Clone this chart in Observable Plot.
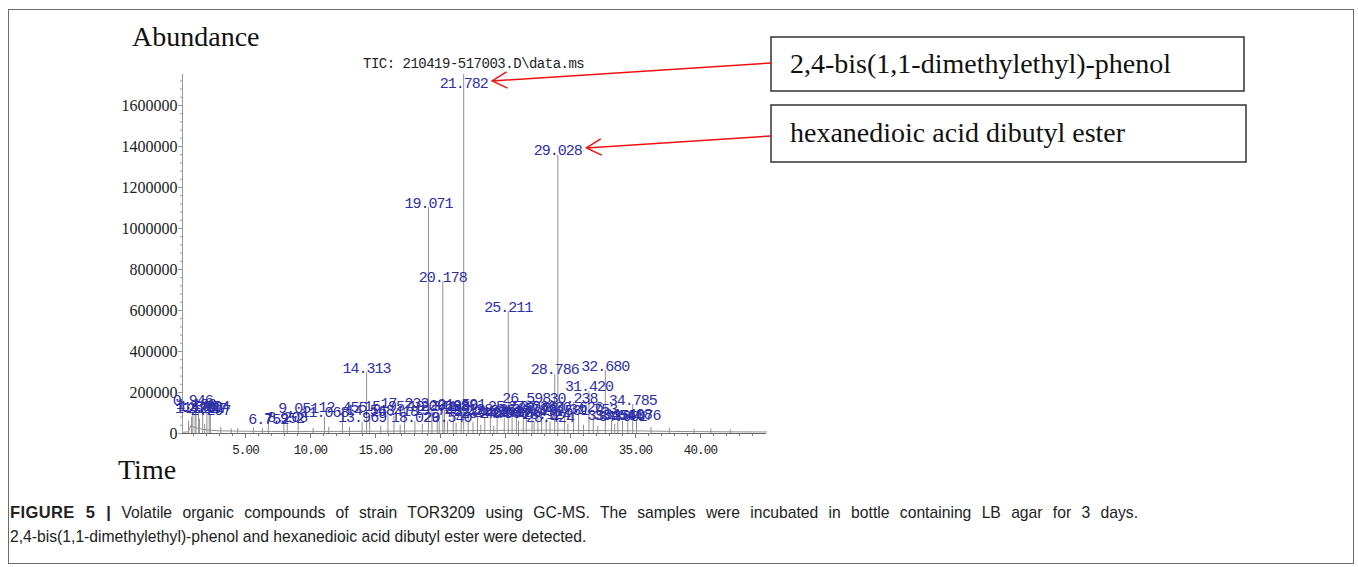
<!DOCTYPE html>
<html>
<head>
<meta charset="utf-8">
<script src="https://cdn.jsdelivr.net/npm/d3@7"></script>
<script src="https://cdn.jsdelivr.net/npm/@observablehq/plot@0.6"></script>
<style>
  html, body { margin: 0; padding: 0; background: #fff; }
  body { width: 1358px; height: 567px; position: relative; overflow: hidden; }
  #frame { position: absolute; left: 8px; top: 9px; width: 1346px; height: 555px; border: 1px solid #6b6b6b; box-sizing: border-box; }
  #chart { position: absolute; left: 0; top: 0; }
  #overlay { position: absolute; left: 0; top: 0; pointer-events: none; }
  .big { position: absolute; font-family: "Liberation Serif", serif; font-size: 28px; color: #111; white-space: nowrap; line-height: 1; }
  #tic { position: absolute; left: 363px; top: 57px; font-family: "Liberation Mono", monospace; font-size: 14px; letter-spacing: -0.5px; color: #222; white-space: nowrap; line-height: 1; }
  #caption { position: absolute; left: 10px; top: 500px; font-family: "Liberation Sans", Arial, sans-serif; font-size: 15.7px; line-height: 24px; color: #222; }
  #caption b { font-size: 16.5px; letter-spacing: 0.4px; }
  #caption .l1 { width: 1128px; text-align: justify; text-align-last: justify; white-space: normal; }
  #caption .l2 { white-space: nowrap; }
</style>
</head>
<body>
<div id="frame"></div>
<div id="chart"></div>
<svg id="overlay" width="1358" height="567"></svg>
<div class="big" style="left:132px; top:23px;">Abundance</div>
<div class="big" style="left:118px; top:456px;">Time</div>
<div id="tic">TIC: 210419-517003.D\data.ms</div>
<div id="caption"><div class="l1"><b>FIGURE 5 |</b> Volatile organic compounds of strain TOR3209 using GC-MS. The samples were incubated in bottle containing LB agar for 3 days.</div><div class="l2">2,4-bis(1,1-dimethylethyl)-phenol and hexanedioic acid dibutyl ester were detected.</div></div>
<script>
// ---- data ----
const peakTimes = [0.946, 1.120, 1.189, 1.389, 1.702, 2.027, 2.204, 2.297,
  6.752, 7.952, 8.208, 9.051, 11.068, 12.455, 13.969, 14.313, 14.548, 15.957, 16.418,
  17.233, 18.029, 19.071, 19.341, 19.749, 20.178, 20.298, 20.540, 20.980, 21.591, 21.782,
  22.128, 22.846, 23.404, 23.835, 24.358, 24.906, 25.211, 25.507, 25.836, 26.370, 26.598,
  27.036, 27.491, 27.781, 28.124, 28.424, 28.786, 29.028, 29.531, 30.238, 30.626, 31.420,
  31.753, 32.680, 33.156, 33.644, 34.001, 34.408, 34.785, 35.076];
const peakHeights = [141000, 100000, 120000, 112000, 105000, 100000, 110000, 92000,
  48000, 52000, 55000, 102000, 80000, 107000, 55000, 297000, 92000, 110000, 85000,
  122000, 58000, 1102000, 110000, 92000, 741000, 112000, 58000, 115000, 120000, 1755000,
  95000, 85000, 75000, 90000, 80000, 75000, 595000, 110000, 80000, 95000, 151000,
  110000, 85000, 100000, 70000, 55000, 288000, 1356000, 90000, 150000, 107000, 205000,
  97000, 307000, 65000, 68000, 62000, 70000, 141000, 68000];
const peakLabels = peakTimes.map(t => t.toFixed(3));

const minorPeakTimes = [0.62, 0.85, 1.45, 1.86, 3.1, 3.9, 4.4, 5.6, 6.3, 10.2, 11.4, 13.0, 15.4,
  16.9, 18.6, 19.9, 21.2, 22.5, 23.1, 24.1, 26.0, 27.2, 29.8, 31.0, 32.1, 33.4, 36.2, 37.6, 39.5, 40.8, 42.3];
const minorPeakHeights = [60000, 80000, 70000, 45000, 30000, 22000, 25000, 28000, 24000, 25000, 30000, 30000, 35000,
  40000, 45000, 60000, 50000, 55000, 40000, 35000, 60000, 55000, 45000, 40000, 35000, 45000, 30000, 25000, 20000, 22000, 18000];

const baseTimes  = [0.15, 0.6, 0.8, 1.0, 1.3, 1.6, 2.0, 2.5, 3.0, 4.0, 5.0, 7.0, 10.0, 13.0, 15.0, 18.0, 20.0, 22.0, 25.0, 28.0, 30.0, 33.0, 35.0, 38.0, 40.0, 43.0, 45.08];
const baseValues = [6000, 8000, 40000, 32000, 26000, 22000, 18000, 15000, 13000, 12000, 11000, 10000, 10000, 10500, 11000, 12000, 13000, 14000, 15000, 16000, 15000, 14000, 13000, 10000, 9000, 8000, 7500];

const xTicks = [5, 10, 15, 20, 25, 30, 35, 40];
const xTickLabels = ["5.00", "10.00", "15.00", "20.00", "25.00", "30.00", "35.00", "40.00"];
const yTicks = [0, 200000, 400000, 600000, 800000, 1000000, 1200000, 1400000, 1600000];
const yTickLabels = ["0", "200000", "400000", "600000", "800000", "1000000", "1200000", "1400000", "1600000"];

const compoundNames = ["2,4-bis(1,1-dimethylethyl)-phenol", "hexanedioic acid dibutyl ester"];
const compoundPeaks = [21.782, 29.028];

// ---- tables ----
const peaks = peakTimes.map((t, i) => ({t, h: peakHeights[i], label: peakLabels[i]}));
const minorPeaks = minorPeakTimes.map((t, i) => ({t, h: minorPeakHeights[i]}));
const baseline = baseTimes.map((t, i) => ({t, v: baseValues[i]}));

const yMax = 1751000;
const labelCap = 1683000;
const traceColor = "#8f8f8f";

const plot = Plot.plot({
  width: 1358,
  height: 480,
  marginLeft: 182,
  marginRight: 592,
  marginTop: 74,
  marginBottom: 47,
  style: {background: "transparent", overflow: "visible"},
  x: {domain: [0.15, 45.08]},
  y: {domain: [0, yMax]},
  marks: [
    Plot.line(baseline, {x: "t", y: "v", stroke: traceColor, strokeWidth: 1}),
    Plot.ruleX(minorPeaks, {x: "t", y1: 0, y2: "h", stroke: traceColor, strokeWidth: 1}),
    Plot.ruleX(peaks, {x: "t", y1: 0, y2: d => Math.min(d.h, yMax), stroke: traceColor, strokeWidth: 1}),
    Plot.ruleY([0], {stroke: "#666", strokeWidth: 1}),
    Plot.ruleX([0.15], {stroke: "#999", strokeWidth: 1}),
    Plot.axisX(d3.range(1, 45), {tickSize: 3, tickFormat: () => "", stroke: "#777", label: null}),
    Plot.axisX(xTicks, {tickSize: 5, tickPadding: 7, tickFormat: d => xTickLabels[xTicks.indexOf(d)],
      fontFamily: "Liberation Mono", fontSize: 12.5, fill: "#222", stroke: "#777", label: null}),
    Plot.axisY(d3.range(0, yMax, 40000), {tickSize: 2, tickFormat: () => "", stroke: "#999", label: null}),
    Plot.axisY(yTicks, {tickSize: 4, tickPadding: 1, tickFormat: d => yTickLabels[yTicks.indexOf(d)],
      fontFamily: "Liberation Serif", fontSize: 16, fill: "#222", stroke: "#999", label: null}),
    Plot.text(peaks, {x: "t", y: d => Math.min(d.h, labelCap), text: "label", lineAnchor: "bottom",
      fill: "#2f2fa8", fontFamily: "Liberation Mono", fontSize: 15})
  ]
});
document.getElementById("chart").appendChild(plot);
d3.select(plot).selectAll("g[aria-label='text'] text").style("letter-spacing", "-1px");
d3.select(plot).selectAll("g[aria-label='x-axis tick label'] text").style("letter-spacing", "-0.8px");

// ---- annotation boxes & arrows ----
const xs = plot.scale("x"), ys = plot.scale("y");
const ov = d3.select("#overlay");
const boxes = [{x: 771, y: 37, w: 473, h: 54, ty: 73, ay: 63}, {x: 771, y: 105, w: 475, h: 57, ty: 142, ay: 136}];
compoundNames.forEach((name, i) => {
  const b = boxes[i];
  ov.append("rect").attr("x", b.x).attr("y", b.y).attr("width", b.w).attr("height", b.h)
    .attr("fill", "#fff").attr("stroke", "#333").attr("stroke-width", 1.5);
  ov.append("text").attr("x", b.x + 19).attr("y", b.ty).text(name)
    .attr("font-family", "Liberation Serif").attr("font-size", 28).attr("fill", "#111");
  const p = peaks.find(d => d.t === compoundPeaks[i]);
  const tipX = xs.apply(p.t) + 29;
  const tipY = ys.apply(Math.min(p.h, labelCap)) - 7;
  const ang = Math.atan2(b.ay - tipY, b.x - tipX);
  const L = 17, a = 0.5;
  ov.append("path")
    .attr("d", `M${b.x},${b.ay}L${tipX},${tipY}M${tipX + L * Math.cos(ang + a)},${tipY + L * Math.sin(ang + a)}L${tipX},${tipY}L${tipX + L * Math.cos(ang - a)},${tipY + L * Math.sin(ang - a)}`)
    .attr("fill", "none").attr("stroke", "#f01010").attr("stroke-width", 1.5);
});
</script>
</body>
</html>
